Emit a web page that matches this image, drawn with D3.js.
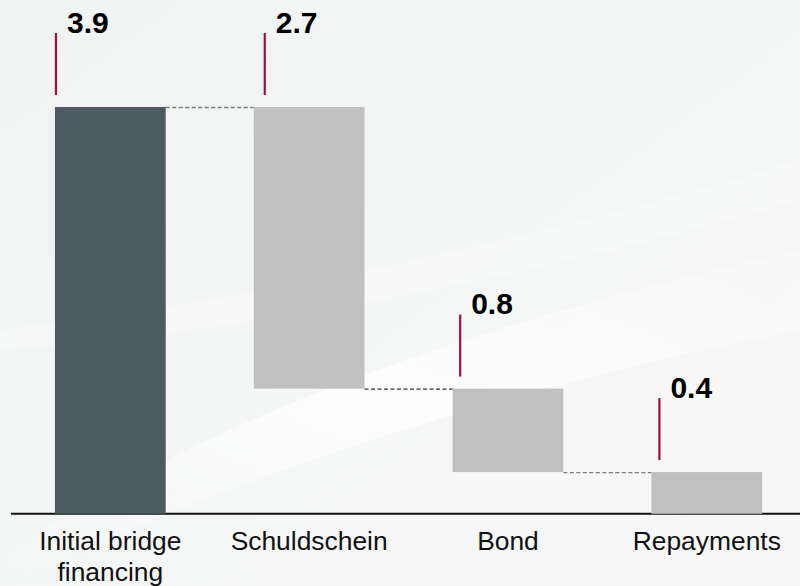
<!DOCTYPE html>
<html>
<head>
<meta charset="utf-8">
<script src="https://cdn.jsdelivr.net/npm/d3@7/dist/d3.min.js"></script>
<style>
  html, body { margin: 0; padding: 0; background: #f4f5f5; }
  svg { display: block; }
</style>
</head>
<body>
<svg id="chart" width="800" height="586"></svg>
<script>
// ---- data ----
const categories = ["Initial bridge financing", "Schuldschein", "Bond", "Repayments"];
const categoryLines = [["Initial bridge", "financing"], ["Schuldschein"], ["Bond"], ["Repayments"]];
const values = [3.9, -2.7, -0.8, -0.4];
const valueLabels = ["3.9", "2.7", "0.8", "0.4"];
const barKinds = ["total", "delta", "delta", "delta"];

// ---- setup ----
const W = 800, H = 586;
const svg = d3.select("#chart");
const font = "'Liberation Sans', Arial, Helvetica, sans-serif";

// background
const defs = svg.append("defs");
const bg = defs.append("linearGradient").attr("id", "bg")
  .attr("x1", "0").attr("y1", "0").attr("x2", "1").attr("y2", "1");
bg.append("stop").attr("offset", "0%").attr("stop-color", "#f1f2f2");
bg.append("stop").attr("offset", "55%").attr("stop-color", "#f5f6f6");
bg.append("stop").attr("offset", "100%").attr("stop-color", "#f8f8f8");
svg.append("rect").attr("width", W).attr("height", H).attr("fill", "url(#bg)");
const sw = defs.append("linearGradient").attr("id", "sw")
  .attr("x1", "0").attr("y1", "1").attr("x2", "1").attr("y2", "0");
sw.append("stop").attr("offset", "0%").attr("stop-color", "#ffffff").attr("stop-opacity", 0.0);
sw.append("stop").attr("offset", "50%").attr("stop-color", "#ffffff").attr("stop-opacity", 0.75);
sw.append("stop").attr("offset", "100%").attr("stop-color", "#ffffff").attr("stop-opacity", 0.2);
svg.append("path").attr("fill", "url(#sw)")
  .attr("d", "M0,560 C200,420 450,330 800,250 L800,330 C500,390 250,470 0,586 Z");
svg.append("path").attr("fill", "#ffffff").attr("opacity", 0.25)
  .attr("d", "M0,330 C250,300 500,250 800,160 L800,200 C520,280 260,330 0,350 Z");

// scales
const x = d3.scaleBand().domain(categories)
  .range([15.2, 801.9]).paddingInner(0.443).paddingOuter(0.2);
const y = d3.scaleLinear().domain([0, 3.9]).range([513.8, 107]);

// waterfall steps
let running = 0;
const steps = categories.map((c, i) => {
  let start, end;
  if (barKinds[i] === "total") { start = 0; end = values[i]; }
  else { start = running; end = running + values[i]; }
  running = end;
  return { cat: c, i, start, end, lo: Math.min(start, end), hi: Math.max(start, end), kind: barKinds[i] };
});

// connectors
const connColors = ["#7a7a7a", "#333333", "#7a7a7a"];
for (let i = 0; i < steps.length - 1; i++) {
  svg.append("line")
    .attr("x1", x(steps[i].cat) + x.bandwidth())
    .attr("x2", x(steps[i + 1].cat))
    .attr("y1", y(steps[i].end) + 0.5).attr("y2", y(steps[i].end) + 0.5)
    .attr("stroke", connColors[i]).attr("stroke-width", 1.3)
    .attr("stroke-dasharray", "4,2.5");
}

// axis baseline
svg.append("line").attr("x1", 11).attr("x2", 800)
  .attr("y1", y(0)).attr("y2", y(0))
  .attr("stroke", "#111").attr("stroke-width", 2);

// bars
svg.selectAll("rect.bar").data(steps).join("rect")
  .attr("class", "bar")
  .attr("x", d => x(d.cat))
  .attr("width", x.bandwidth())
  .attr("y", d => y(d.hi))
  .attr("height", d => y(d.lo) - y(d.hi))
  .attr("fill", d => d.kind === "total" ? "#4b5b60" : "#c0c0c0");

// value markers
const markerOffset = [1, 11, 7.6, 8];
steps.forEach((d, i) => {
  const lx = x(d.cat) + markerOffset[i];
  const yb = y(d.hi) - 12;
  const yt = yb - 62;
  svg.append("line").attr("x1", lx).attr("x2", lx)
    .attr("y1", yt).attr("y2", yb)
    .attr("stroke", "#a30d3f").attr("stroke-width", 2.2);
  svg.append("text").attr("x", lx + 11).attr("y", yt - 0.5)
    .attr("font-family", font).attr("font-weight", "bold")
    .attr("font-size", 30).attr("fill", "#000")
    .text(valueLabels[i]);
});

// category labels
steps.forEach((d, i) => {
  const t = svg.append("text")
    .attr("x", x(d.cat) + x.bandwidth() / 2)
    .attr("y", 550)
    .attr("text-anchor", "middle")
    .attr("font-family", font).attr("font-size", 26.4).attr("fill", "#111");
  categoryLines[i].forEach((ln, k) => {
    t.append("tspan").attr("x", x(d.cat) + x.bandwidth() / 2)
      .attr("dy", k === 0 ? 0 : 31).text(ln);
  });
});
</script>
</body>
</html>
